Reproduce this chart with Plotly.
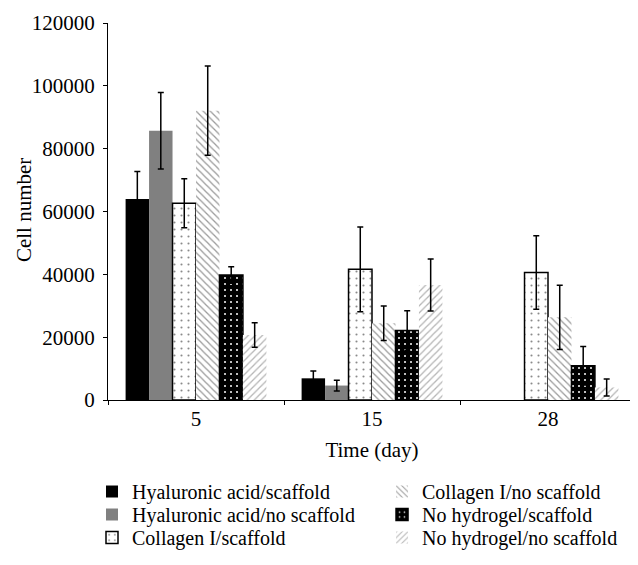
import plotly.graph_objects as go

days = ["5", "15", "28"]
series_names = [
    "Hyaluronic acid/scaffold",
    "Hyaluronic acid/no scaffold",
    "Collagen I/scaffold",
    "Collagen I/no scaffold",
    "No hydrogel/scaffold",
    "No hydrogel/no scaffold",
]
ha_scaffold = [64000, 6900, None]
ha_scaffold_err = [8700, 2300, None]
ha_noscaffold = [85700, 4600, None]
ha_noscaffold_err = [12200, 1700, None]
col_scaffold = [62600, 41600, 40600]
col_scaffold_err = [7800, 13500, 11700]
col_noscaffold = [92100, 24400, 26300]
col_noscaffold_err = [14200, 5500, 10200]
noh_scaffold = [39800, 22100, 10900]
noh_scaffold_err = [2600, 6300, 6100]
noh_noscaffold = [20700, 36600, 4000]
noh_noscaffold_err = [3900, 8300, 2700]

values = [ha_scaffold, ha_noscaffold, col_scaffold, col_noscaffold, noh_scaffold, noh_noscaffold]
errors = [ha_scaffold_err, ha_noscaffold_err, col_scaffold_err, col_noscaffold_err, noh_scaffold_err, noh_noscaffold_err]

FONT = "Liberation Serif"
FS = 21
LFS = 20

styles = [
    dict(color="black", line=dict(width=0)),
    dict(color="#808080", line=dict(width=0)),
    dict(color="white", line=dict(color="black", width=1.5),
         pattern=dict(shape=".", fgcolor="#8a8a8a", bgcolor="white", size=7, solidity=0.07, fillmode="replace")),
    dict(color="white", line=dict(width=0),
         pattern=dict(shape="\\", fgcolor="#9a9a9a", bgcolor="white", size=5, solidity=0.25, fillmode="replace")),
    dict(color="black", line=dict(color="black", width=1.5),
         pattern=dict(shape=".", fgcolor="white", bgcolor="black", size=6, solidity=0.09, fillmode="replace")),
    dict(color="white", line=dict(width=0),
         pattern=dict(shape="/", fgcolor="#b5b5b5", bgcolor="white", size=5, solidity=0.25, fillmode="replace")),
]
legend_ids = ["legend", "legend2", "legend3", "legend4", "legend5", "legend6"]

fig = go.Figure()
for name, v, e, st, lg in zip(series_names, values, errors, styles, legend_ids):
    fig.add_trace(go.Bar(
        x=days, y=v, name=name, marker=st, legend=lg, showlegend=True,
        error_y=dict(type="data", array=e, visible=True, color="black", thickness=1.5, width=3),
    ))

def leg(x, y):
    return dict(x=x, y=y, xanchor="left", yanchor="top", font=dict(size=LFS),
                bgcolor="rgba(0,0,0,0)", tracegroupgap=0)

row_y = [-0.191, -0.252, -0.313]
lx, rx = -0.0303, 0.519

fig.update_layout(
    width=630, height=557,
    margin=dict(l=100, r=2, t=15, b=165),
    showlegend=True,
    plot_bgcolor="white", paper_bgcolor="white",
    barmode="group", bargap=0.2, bargroupgap=0,
    font=dict(family=FONT, size=FS, color="black"),
    xaxis=dict(
        type="category", showline=True, linecolor="black", linewidth=1, automargin=False,
        ticks="outside", tickson="boundaries", ticklen=4, tickcolor="black",
        title=dict(text="Time (day)", standoff=12, font=dict(size=FS)),
        tickfont=dict(size=FS), showgrid=False,
    ),
    yaxis=dict(
        range=[0, 120000], dtick=20000, showline=True, linecolor="black", linewidth=1, automargin=False,
        ticks="outside", ticklen=4, tickcolor="black", showgrid=False, zeroline=False,
        ticklabelstandoff=4,
        tickfont=dict(size=FS), tickformat="d",
    ),
    annotations=[dict(
        text="Cell number", xref="paper", yref="paper", x=-0.159, y=0.504,
        xanchor="center", yanchor="middle", textangle=-90, showarrow=False,
        font=dict(size=FS, family=FONT, color="black"),
    )],
    legend=leg(lx, row_y[0]),
    legend2=leg(lx, row_y[1]),
    legend3=leg(lx, row_y[2]),
    legend4=leg(rx, row_y[0]),
    legend5=leg(rx, row_y[1]),
    legend6=leg(rx, row_y[2]),
)

fig.write_html("out.html")
